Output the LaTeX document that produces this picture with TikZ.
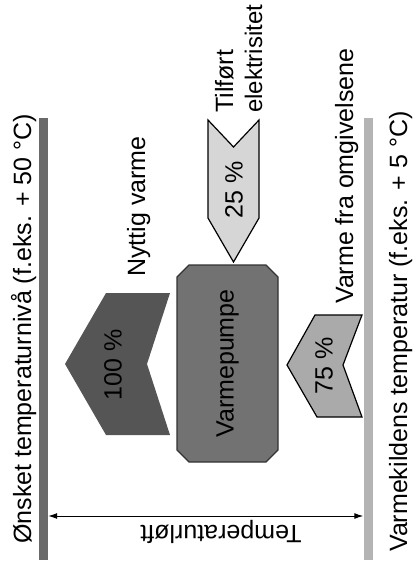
\documentclass[tikz,border=0pt]{standalone}
\usepackage{fontspec}
\setmainfont{Liberation Sans}
\usetikzlibrary{arrows.meta,shapes.misc}
\definecolor{hotbar}{HTML}{6A6A6A}
\definecolor{coldbar}{HTML}{B4B4B4}
\definecolor{useful}{HTML}{555555}
\definecolor{pump}{HTML}{727272}
\definecolor{elec}{HTML}{D6D6D6}
\definecolor{ambient}{HTML}{AAAAAA}
\begin{document}
\begin{tikzpicture}[x=1pt,y=-1pt,
  txt/.style={font=\fontsize{25}{30}\selectfont, inner sep=0pt},
  uptxt/.style={txt, rotate=90, anchor=base west},
  bar/.style={draw=none, inner sep=0pt, minimum width=9pt, minimum height=442pt},
  flowline/.style={draw=black, line width=1.2pt, line join=miter},
  >={Latex[length=9pt,width=6pt]}]
\useasboundingbox (0,0) rectangle (413,566);
% temperature bars
\node[bar, fill=hotbar] (hot) at (43.5,339) {};
\node[bar, fill=coldbar] (cold) at (368,339) {};
\node[uptxt] (hotlabel) at (31,544) {Ønsket temperaturnivå (f.eks. + 50 °C)};
\node[uptxt] (coldlabel) at (407,552) {Varmekildens temperatur (f.eks. + 5 °C)};
% temperature lift arrow
\coordinate (ay) at (0,516);
\draw[line width=1pt, <->] (hot.east |- ay) -- (cold.west |- ay);
\node[txt, rotate=180] (lift) at (221,532) {Temperaturløft};
% heat pump
\node[chamfered rectangle, chamfered rectangle xsep=6pt, chamfered rectangle ysep=6pt,
  rotate=90, minimum width=197pt, minimum height=101pt, inner sep=0pt,
  fill=pump, draw=black!80, line width=1.2pt, font=\fontsize{25}{30}\selectfont]
  (pumpbox) at (227.5,363.5) {Varmepumpe};
% useful heat (100 %)
\fill[useful] (106,293) -- (170,293) -- (147,364) -- (170,435) -- (106,435) -- (65,364) -- cycle;
\node[txt, rotate=90] (p100) at (113,365) {100 \%};
\node[uptxt] (usefullabel) at (145,277) {Nyttig varme};
% electricity (25 %)
\path[fill=elec, flowline] (208,120) -- (233.5,147) -- (259,120) -- (259,218) -- (233.5,262) -- (208,218) -- cycle;
\node[txt, rotate=90] (p25) at (234,190) {25 \%};
\node[uptxt] (eleclabel1) at (233,113) {Tilført};
\node[uptxt, font=\fontsize{24}{29}\selectfont] (eleclabel2) at (262,113) {elektrisitet};
% ambient heat (75 %)
\path[fill=ambient, flowline] (315,315) -- (362,315) -- (343,365) -- (362,417) -- (317,417) -- (287,365) -- cycle;
\node[txt, rotate=90] (p75) at (324,366) {75 \%};
\node[uptxt] (ambientlabel) at (353,304) {Varme fra omgivelsene};
\end{tikzpicture}
\end{document}
